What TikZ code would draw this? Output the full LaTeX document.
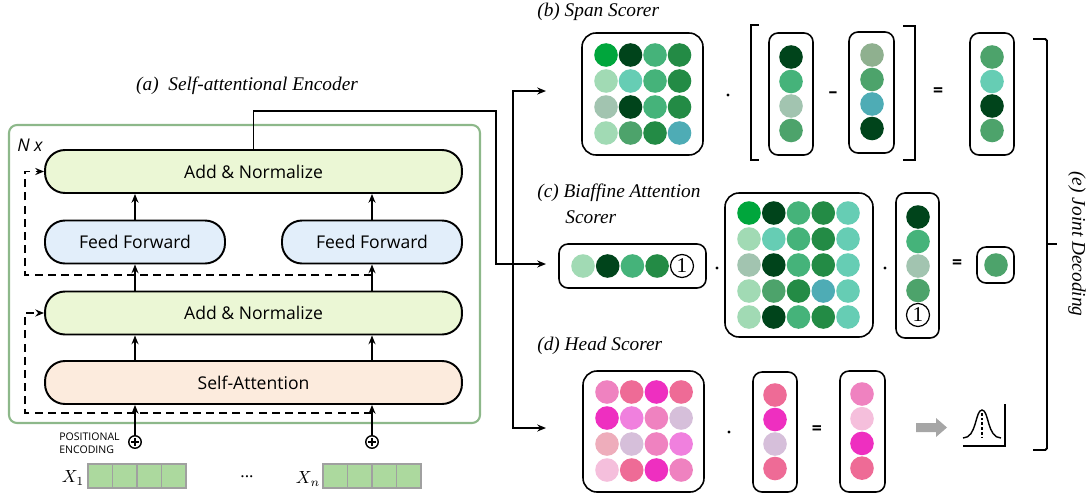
\documentclass[tikz,border=0pt]{standalone}
\usepackage{fontspec}
\setmainfont{Liberation Serif}
\setsansfont{Open Sans}
\usetikzlibrary{arrows.meta}

% fills of the encoder
\definecolor{encgreen}{HTML}{8DB88A}
\definecolor{normfill}{HTML}{EBF7D5}
\definecolor{fffill}{HTML}{E2EEFA}
\definecolor{safill}{HTML}{FCEBDD}
\definecolor{embfill}{HTML}{ACD99E}
\definecolor{embline}{HTML}{A0A0A0}
\definecolor{arrowgrey}{HTML}{A6A6A6}
% greens of the scores
\definecolor{gA}{HTML}{00A63C}
\definecolor{gB}{HTML}{00441B}
\definecolor{gC}{HTML}{45B37A}
\definecolor{gD}{HTML}{238B45}
\definecolor{gE}{HTML}{A1DAB4}
\definecolor{gF}{HTML}{66CDB4}
\definecolor{gG}{HTML}{A2C4B0}
\definecolor{gH}{HTML}{4DA36B}
\definecolor{gI}{HTML}{4EACB5}
\definecolor{gJ}{HTML}{8FB08F}
% pinks of the head scores
\definecolor{pA}{HTML}{EF82C0}
\definecolor{pB}{HTML}{EE6B96}
\definecolor{pC}{HTML}{EE2FC0}
\definecolor{pD}{HTML}{F080DE}
\definecolor{pE}{HTML}{D6BFDA}
\definecolor{pF}{HTML}{EEADBB}
\definecolor{pG}{HTML}{F5BFDC}

\begin{document}
\begin{tikzpicture}[x=0.02cm,y=-0.02cm,
  >={Stealth[length=5pt,width=4pt]},
  layer/.style={draw,line width=1.1pt,rounded corners=0.4cm,minimum height=0.86cm,
    inner sep=0pt,font=\sffamily\fontsize{10}{12}\selectfont},
  flow/.style={->,line width=1pt},
  skip/.style={->,line width=1.1pt,dash pattern=on 4.5pt off 3pt},
  plus/.style={circle,draw,line width=0.8pt,minimum size=0.25cm,inner sep=0pt,
    path picture={\draw[line width=0.6pt]
      ([xshift=-2pt]path picture bounding box.center) -- ([xshift=2pt]path picture bounding box.center)
      ([yshift=-2pt]path picture bounding box.center) -- ([yshift=2pt]path picture bounding box.center);}},
  title/.style={inner sep=0pt,font=\itshape\fontsize{11}{13}\selectfont},
  matbox/.style={draw,line width=0.9pt,rounded corners=0.28cm},
  vecbox/.style={draw,line width=0.9pt,rounded corners=0.18cm},
  onecirc/.style={circle,draw,line width=0.7pt,minimum size=0.46cm,inner sep=0pt,
    font=\fontsize{12}{12}\selectfont},
  oper/.style={inner sep=0pt,font=\sffamily\bfseries\fontsize{10}{12}\selectfont}]
  \useasboundingbox (0,0) rectangle (1091,497);
  \pgfmathsetmacro\r{11.8}

% encoder
  \node[title] (tenc) at (247,86) {(a)\ \ Self-attentional Encoder};
  \draw[encgreen,line width=1.2pt,rounded corners=0.16cm] (9,125) rectangle (480,423);
  \node[inner sep=0pt,font=\sffamily\itshape\fontsize{10}{12}\selectfont] (nx) at (30,145) {N x};

  \node[layer,fill=normfill,minimum width=8.34cm] (addtop) at (253.5,171.5) {Add \& Normalize};
  \node[layer,fill=fffill,minimum width=3.6cm] (ffl) at (135,242) {Feed Forward};
  \node[layer,fill=fffill,minimum width=3.6cm] (ffr) at (372,242) {Feed Forward};
  \node[layer,fill=normfill,minimum width=8.34cm] (addmid) at (253.5,313) {Add \& Normalize};
  \node[layer,fill=safill,minimum width=8.34cm] (selfatt) at (253.5,382.5) {Self-Attention};
  \node[plus] (plusl) at (135,442) {};
  \node[plus] (plusr) at (372,442) {};

  \draw[flow] (ffl.north) -- (ffl.north |- addtop.south);
  \draw[flow] (ffr.north) -- (ffr.north |- addtop.south);
  \draw[flow] (ffl.south |- addmid.north) -- (ffl.south);
  \draw[flow] (ffr.south |- addmid.north) -- (ffr.south);
  \draw[flow] (plusl.north |- selfatt.north) -- (plusl.north |- addmid.south);
  \draw[flow] (plusr.north |- selfatt.north) -- (plusr.north |- addmid.south);
  \draw[flow] (plusl.north) -- (plusl.north |- selfatt.south);
  \draw[flow] (plusr.north) -- (plusr.north |- selfatt.south);

  % residual connections
  \coordinate (restop) at (372,275);
  \coordinate (resbot) at (372,413);
  \draw[skip] (restop) -- (25,275) |- (addtop.west);
  \draw[skip] (resbot) -- (25,413) |- (addmid.west);

% inputs
  \node[anchor=west,align=left,inner sep=0pt,font=\sffamily\fontsize{6}{7.5}\selectfont]
    (posenc) at (59,443) {POSITIONAL\\ENCODING};
  \node[inner sep=0pt,font=\fontsize{10}{12}\selectfont] (xone) at (73,478) {$X_1$};
  \node[inner sep=0pt,font=\fontsize{10}{12}\selectfont] (dots) at (247,477) {...};
  \node[inner sep=0pt,font=\fontsize{10}{12}\selectfont] (xn) at (308,479) {$X_n$};
  \foreach \x in {88,323} {
    \foreach \i in {0,...,3} {
      \draw[fill=embfill,draw=embline,line width=0.8pt] (\x+24.5*\i,464) rectangle ++(24.5,24);
    }
  }

% encoder output to the scorers
  \coordinate (tospan) at (546,91);
  \coordinate (tobia) at (546,264);
  \coordinate (tohead) at (546,428);
  \coordinate (split) at (513,264);
  \draw[flow] (addtop.north) |- (496,111) |- (tobia);
  \draw[flow,<->] (tospan) -| (split) |- (tohead);

% (b) span scorer
  \node[title,anchor=west] (tspan) at (537,12) {(b) Span Scorer};
  \draw[matbox] (582,33) rectangle (703,155);
  \foreach \row [count=\j from 0] in {{gA,gB,gC,gD},{gE,gF,gC,gD},{gG,gB,gC,gD},{gE,gH,gD,gI}} {
    \foreach \c [count=\i from 0] in \row {
      \fill[\c] (606+24.5*\i,55+26*\j) circle (\r);
    }
  }
  \fill (728,95) circle (1.6);
  \draw[line width=1pt] (759,25) -- (751,25) -- (751,160) -- (759,160);
  \draw[vecbox] (769,33) rectangle (813,155);
  \foreach \c [count=\j from 0] in {gB,gC,gG,gH} \fill[\c] (791,57+24.5*\j) circle (\r);
  \node[oper] (minus) at (833,95) {--};
  \draw[vecbox] (849,32) rectangle (894,153);
  \foreach \c [count=\j from 0] in {gJ,gH,gI,gB} \fill[\c] (872,55+24.5*\j) circle (\r);
  \draw[line width=1pt] (903,26) -- (915,26) -- (915,160) -- (903,160);
  \node[oper] (eqspan) at (938,92) {=};
  \draw[vecbox] (970,33) rectangle (1014,155);
  \foreach \c [count=\j from 0] in {gH,gF,gB,gH} \fill[\c] (992,57+24.5*\j) circle (\r);

% (c) biaffine attention scorer
  \node[title,anchor=west] (tbia) at (537,193) {(c) Biaffine Attention};
  \node[title,anchor=west] (tbiab) at (565,217) {Scorer};
  \draw[vecbox] (559,244) rectangle (706,288);
  \foreach \c [count=\i from 0] in {gE,gB,gC,gD} \fill[\c] (583+24.7*\i,266) circle (\r);
  \node[onecirc] (onerow) at (682,266) {1};
  \fill (717,268) circle (1.6);
  \draw[matbox] (725,193) rectangle (873,337);
  \foreach \row [count=\j from 0] in {{gA,gB,gC,gD,gF},{gE,gF,gC,gD,gF},{gG,gB,gC,gD,gF},{gE,gH,gD,gI,gF},{gE,gB,gC,gD,gF}} {
    \foreach \c [count=\i from 0] in \row {
      \fill[\c] (749+24.75*\i,213+26*\j) circle (\r);
    }
  }
  \fill (885,268) circle (1.6);
  \draw[vecbox] (896,193) rectangle (939,338);
  \foreach \c [count=\j from 0] in {gB,gC,gG,gH} \fill[\c] (918,217+24.5*\j) circle (\r);
  \node[onecirc] (onecol) at (918,315) {1};
  \node[oper] (eqbia) at (957,264) {=};
  \draw[vecbox] (977,247) rectangle (1014,283);
  \fill[gH] (996,265) circle (\r);

% (d) head scorer
  \node[title,anchor=west] (thead) at (537,346) {(d) Head Scorer};
  \draw[matbox] (583,371) rectangle (704,492);
  \foreach \row [count=\j from 0] in {{pA,pB,pC,pB},{pC,pD,pA,pE},{pF,pE,pA,pD},{pG,pB,pC,pA}} {
    \foreach \c [count=\i from 0] in \row {
      \fill[\c] (607+24.7*\i,392+26*\j) circle (\r);
    }
  }
  \fill (729,432) circle (1.6);
  \draw[vecbox] (753,372) rectangle (797,492);
  \foreach \c [count=\j from 0] in {pB,pC,pE,pB} \fill[\c] (775,395+24.5*\j) circle (\r);
  \node[oper] (eqhead) at (817,430) {=};
  \draw[vecbox] (840,371) rectangle (885,492);
  \foreach \c [count=\j from 0] in {pA,pG,pC,pB} \fill[\c] (862,394+24.7*\j) circle (\r);
  \fill[arrowgrey] (916,423) -- (936,423) -- (936,418) -- (947,427.5) -- (936,437) -- (936,432) -- (916,432) -- cycle;
  % distribution
  \draw[line width=0.6pt] (963,446) -- (1005,446) -- (1005,404);
  \draw[line width=0.8pt] (963,438) .. controls (977,438) and (975,410) .. (982,410)
    .. controls (989,410) and (987,438) .. (1001,438);
  \draw[line width=0.8pt,dash pattern=on 1.5pt off 1.2pt] (982,413) -- (982,438);

% (e) joint decoding
  \draw[line width=1.1pt,rounded corners=1pt] (1033,39) -- (1047,39) -- (1047,450) -- (1033,450);
  \draw[line width=1.1pt] (1047,244) -- (1057,244);
  \node[title,rotate=-90] (tjoint) at (1077,244) {(e) Joint Decoding};
\end{tikzpicture}
\end{document}
